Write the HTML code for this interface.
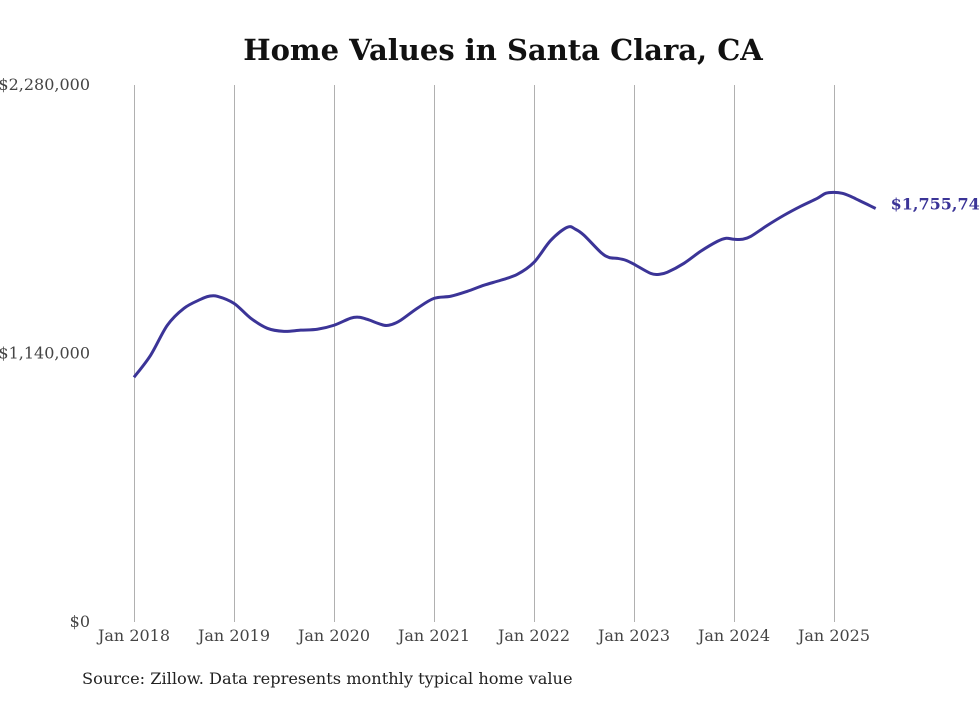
<!DOCTYPE html>
<html><head><meta charset="utf-8"><style>
body{margin:0;background:#fff;width:980px;height:699px;overflow:hidden}
svg text{font-family:"DejaVu Serif","Liberation Serif",serif}
</style></head><body>
<svg id="chart" width="980" height="699">
<text x="503" y="60" text-anchor="middle" font-size="29" font-weight="bold" fill="#111">Home Values in Santa Clara, CA</text>
<g id="grid"></g><g id="yaxis"></g><g id="xaxis"></g><g id="series"></g>
<text x="82" y="684" font-size="16.2" fill="#222">Source: Zillow. Data represents monthly typical home value</text>
</svg>
<script>
const months=[0,2,4,6,8,9,10,12,14,16,18,20,22,24,26,27,28,30,31,32,34,36,38,40,42,44,46,48,50,52,53,54,56,57,58,59,60,62,63,64,66,68,70,71,72,73,74,76,78,80,82,83,84,85,86,87,88,89];
const values=[1039,1133,1260,1332,1370,1383,1383,1353,1290,1247,1234,1239,1243,1260,1290,1294,1285,1260,1264,1281,1332,1374,1383,1404,1430,1451,1476,1527,1620,1676,1667,1642,1570,1548,1544,1536,1519,1480,1476,1485,1523,1574,1616,1629,1625,1625,1637,1684,1727,1765,1799,1820,1824,1820,1807,1790,1773,1755.745];
const xTicks=["Jan 2018","Jan 2019","Jan 2020","Jan 2021","Jan 2022","Jan 2023","Jan 2024","Jan 2025"];
const yTicks=[0,1140,2280];
const yTickLabels=["$0","$1,140,000","$2,280,000"];
const lastLabel="$1,755,745";
const NS="http://www.w3.org/2000/svg";
const x=m=>134+m*100/12, y=v=>622-v/2280*537;
function mk(t,a,p){const e=document.createElementNS(NS,t);for(const k in a)e.setAttribute(k,a[k]);document.getElementById(p).appendChild(e);return e;}
xTicks.forEach((t,i)=>{
  const gx=Math.round(x(i*12))+0.5;
  const l=mk('line',{x1:gx,x2:gx,y1:85,y2:622,stroke:'#b0b0b0','stroke-width':1},'grid');
  
  
  const tx=mk('text',{x:x(i*12),y:641,'text-anchor':'middle','font-size':16,fill:'#444'},'xaxis');
  tx.textContent=t;
  
  
});
yTicks.forEach((v,i)=>{
  const tx=mk('text',{x:90,y:y(v)+5,'text-anchor':'end','font-size':16,fill:'#444'},'yaxis');
  tx.textContent=yTickLabels[i];
  
  
});
const P=months.map((m,i)=>[x(m),y(values[i])]);
let d='M'+P[0][0]+','+P[0][1];
for(let i=0;i<P.length-1;i++){
  const p0=P[i-1]||P[i],p1=P[i],p2=P[i+1],p3=P[i+2]||P[i+1];
  const c1=[p1[0]+(p2[0]-p0[0])/6,p1[1]+(p2[1]-p0[1])/6],c2=[p2[0]-(p3[0]-p1[0])/6,p2[1]-(p3[1]-p1[1])/6];
  d+=' C'+c1+' '+c2+' '+p2;
}
const path=mk('path',{d:d,fill:'none',stroke:'#3b3497','stroke-width':3,'stroke-linejoin':'round'},'series');


const lp=P[P.length-1];
const lab=mk('text',{x:lp[0]+15,y:lp[1]+1,'font-size':16,'font-weight':'bold',fill:'#3b3497'},'series');
lab.textContent=lastLabel;


</script>
</body></html>
